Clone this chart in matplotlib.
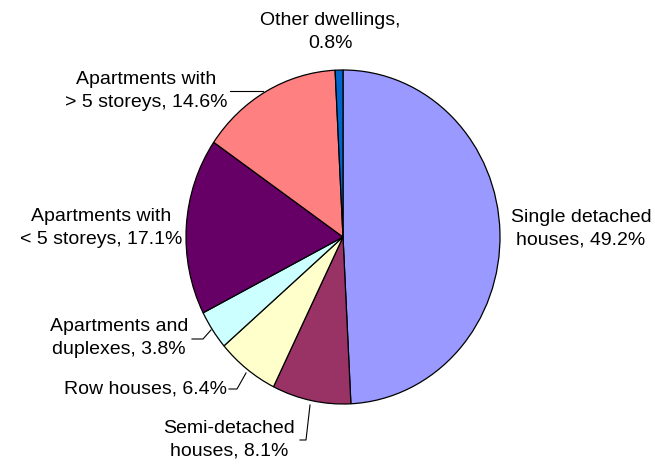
import matplotlib
matplotlib.use('Agg')
import matplotlib.pyplot as plt

labels = ['Single detached\nhouses, 49.2%',
          'Semi-detached\nhouses, 8.1%',
          'Row houses, 6.4%',
          'Apartments and\nduplexes, 3.8%',
          'Apartments with\n< 5 storeys, 17.1%',
          'Apartments with\n> 5 storeys, 14.6%',
          'Other dwellings,\n0.8%']
shares = [49.2, 8.1, 6.4, 3.8, 17.1, 14.6, 0.8]
colors = ['#9999FF', '#993366', '#FFFFCC', '#CCFFFF', '#660066', '#FF8080', '#0066CC']

# label centres in pixels, leader lines as pixel polylines
label_pos = [(581, 229), (229, 440), (145, 389), (119, 338),
             (101, 228), (146, 91), (330, 32)]
leaders = [None,
           [(300, 440), (306, 440), (310, 405)],
           [(229, 389), (237, 389), (246, 373)],
           [(192, 339), (203, 339), (211, 330)],
           None,
           [(230, 91), (263, 91)],
           None]

W, H = 655, 468
cx, cy, rx, ry = 343, 237, 157, 167


def px(x, y):
    return (x - cx) / rx, (cy - y) / ry


fig = plt.figure(figsize=(W / 100, H / 100), dpi=100)
ax = fig.add_axes([0, 0, 1, 1])
ax.pie(shares, colors=colors, startangle=90, counterclock=False,
       wedgeprops=dict(edgecolor='black', linewidth=0.9))
ax.set_aspect('auto')
ax.set_xlim(px(0, 0)[0], px(W, 0)[0])
ax.set_ylim(px(0, H)[1], px(0, 0)[1])
ax.axis('off')

for lab, (x, y), ld in zip(labels, label_pos, leaders):
    tx, ty = px(x, y)
    ax.text(tx, ty, lab, ha='center', va='center', fontsize=14,
            family='Liberation Sans', linespacing=1.45, color='black')
    if ld:
        xs, ys = zip(*[px(a, b) for a, b in ld])
        ax.plot(xs, ys, color='black', linewidth=0.8)

fig.savefig('out.png', dpi=100, facecolor='white')
